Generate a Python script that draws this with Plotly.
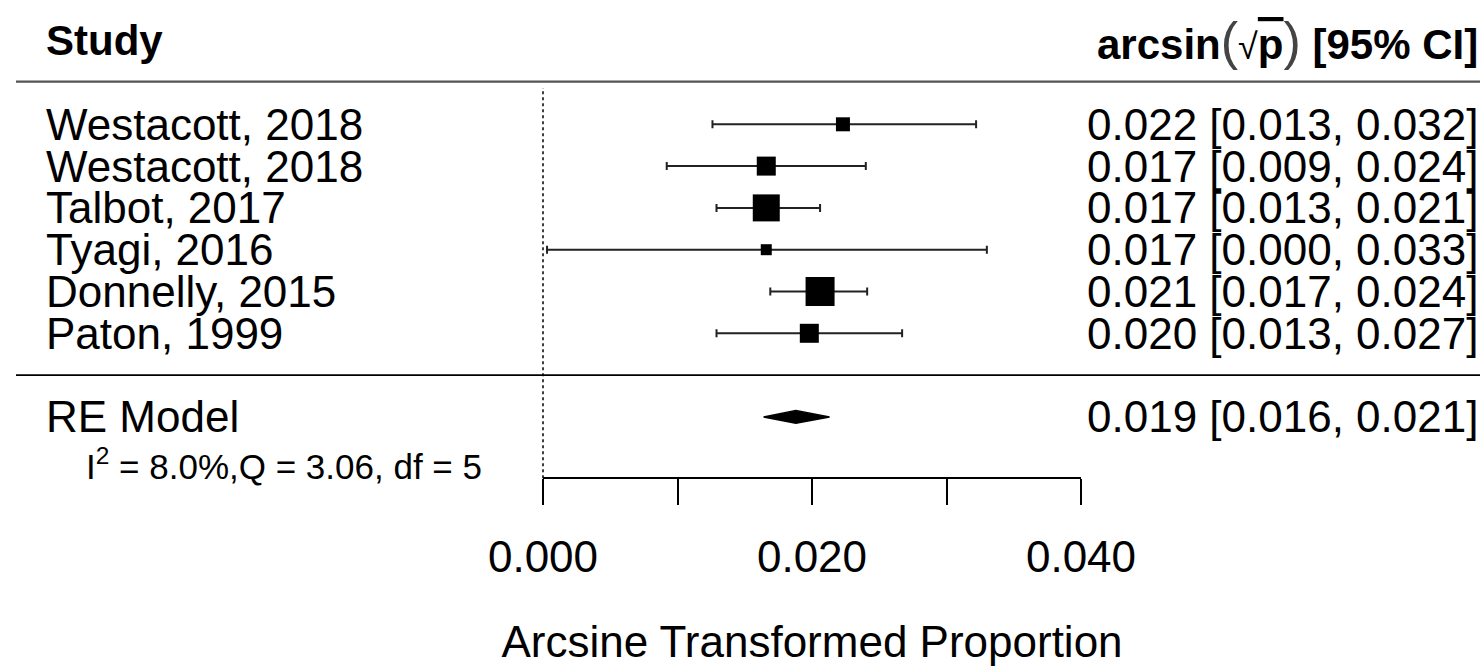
import plotly.graph_objects as go

# ---- study-level data (arcsine-transformed proportions) ----
studies = ["Westacott, 2018", "Westacott, 2018", "Talbot, 2017",
           "Tyagi, 2016", "Donnelly, 2015", "Paton, 1999"]
est = [0.0223, 0.0166, 0.0166, 0.0166, 0.0206, 0.0198]
ci_lo = [0.0126, 0.0092, 0.0129, 0.0003, 0.0169, 0.0129]
ci_hi = [0.0322, 0.0240, 0.0206, 0.0330, 0.0241, 0.0267]

# ---- pooled random-effects estimate ----
re_label = "RE Model"
re_est = 0.0188
re_lo = 0.0164
re_hi = 0.0213
het_text = "I<sup>2</sup> = 8.0%,Q = 3.06, df = 5"

# ---- axis ticks ----
tick_vals = [0.0, 0.02, 0.04]
tick_text = ["0.000", "0.020", "0.040"]
minor_step = 0.01

# ---- layout geometry ----
W, H = 1480, 667
X0_PX, PX_PER_UNIT = 543.0, 13450.0      # x pixel of 0 and pixels per unit
ROW1_PX, ROW_PX = 333.3, 41.8            # y pixel of row 1 and row spacing
AXIS_PX = 478.3                          # y pixel of the x axis line

def row_of(ypx):
    return 1 - (ypx - ROW1_PX) / ROW_PX

def xval(xpx):
    return (xpx - X0_PX) / PX_PER_UNIT

k = len(studies)
rows = list(range(k, 0, -1))
re_row = -1
marker_px = [14, 19, 27, 11, 29, 19]     # square size ~ study weight

FONT = "Liberation Sans, Arial, Helvetica, sans-serif"

fig = go.Figure()

# study estimates with confidence intervals
fig.add_trace(go.Scatter(
    x=est, y=rows, xaxis="x2", yaxis="y", mode="markers",
    marker=dict(symbol="square", size=marker_px, color="black", opacity=1,
                line=dict(width=0)),
    error_x=dict(type="data", symmetric=False,
                 array=[h - e for h, e in zip(ci_hi, est)],
                 arrayminus=[e - l for e, l in zip(est, ci_lo)],
                 color="#222", thickness=2, width=4),
    cliponaxis=False, hoverinfo="skip", showlegend=False))

# summary diamond
dh = 0.15
fig.add_trace(go.Scatter(
    x=[re_lo, re_est, re_hi, re_est, re_lo],
    y=[re_row, re_row + dh, re_row, re_row - dh, re_row],
    xaxis="x2", yaxis="y", mode="lines", fill="toself",
    fillcolor="black", line=dict(color="black", width=1.5),
    cliponaxis=False, hoverinfo="skip", showlegend=False))

shapes = [
    # header rule
    dict(type="line", xref="x", yref="y", x0=xval(16), x1=xval(W),
         y0=k + 1.02, y1=k + 1.02, line=dict(color="#555", width=2.2)),
    # separator above summary
    dict(type="line", xref="x", yref="y", x0=xval(16), x1=xval(W),
         y0=0, y1=0, line=dict(color="black", width=1.8)),
    # reference line at zero
    dict(type="line", xref="x", yref="y", x0=0, x1=0,
         y0=row_of(AXIS_PX), y1=row_of(88), line=dict(color="black", width=1.5, dash="dot")),
]

annotations = []
def txt(x_px, y, text, size=44, anchor="left"):
    annotations.append(dict(xref="x", yref="y", x=xval(x_px), y=y, text=text,
                            showarrow=False, xanchor=anchor, yanchor="middle",
                            font=dict(family=FONT, size=size, color="black")))

txt(44, k + 2, "<b>Study</b>", size=42)
txt(W, k + 2,
    "<b>arcsin</b><span style='font-size:52px;color:#444'>(</span>"
    "<span style='font-size:36px'>√</span>"
    "<span style='text-decoration:overline'><b>p</b></span>"
    "<span style='font-size:52px;color:#444'>)</span> <b>[95% CI]</b>",
    size=42, anchor="right")

for r, s, e, l, h in zip(rows, studies, est, ci_lo, ci_hi):
    txt(44, r, s)
    txt(W, r, f"{e:.3f} [{l:.3f}, {h:.3f}]", anchor="right")

txt(44, re_row, re_label)
txt(W, re_row, f"{re_est:.3f} [{re_lo:.3f}, {re_hi:.3f}]", anchor="right")
txt(84, row_of(464), het_text, size=35)

fig.update_layout(
    width=W, height=H, margin=dict(l=0, r=0, t=0, b=0, pad=0, autoexpand=False),
    paper_bgcolor="white", plot_bgcolor="white",
    font=dict(family=FONT, color="black"),
    showlegend=False,
    shapes=shapes, annotations=annotations,
    xaxis=dict(domain=[0, 1], range=[xval(0), xval(W)],
               visible=False, fixedrange=True),
    yaxis=dict(domain=[0, 1], range=[row_of(H), row_of(0)], visible=False, fixedrange=True),
    xaxis2=dict(domain=[X0_PX / W, (X0_PX + 0.04 * PX_PER_UNIT) / W],
                range=[0, 0.04], anchor="free", position=1 - AXIS_PX / H,
                automargin=False,
                showline=True, linecolor="black", linewidth=2,
                ticks="outside", ticklen=26, tickwidth=2, tickcolor="black",
                tickvals=tick_vals, ticktext=tick_text,
                minor=dict(dtick=minor_step, tick0=0, ticks="outside", ticklen=26,
                           tickwidth=2, tickcolor="black", showgrid=False),
                tickfont=dict(family=FONT, size=44, color="black"),
                ticklabelstandoff=14,
                showgrid=False, zeroline=False, fixedrange=True,
                title=dict(text="Arcsine Transformed Proportion", standoff=45,
                           font=dict(family=FONT, size=44, color="black"))),
)

fig.write_html("out.html")
